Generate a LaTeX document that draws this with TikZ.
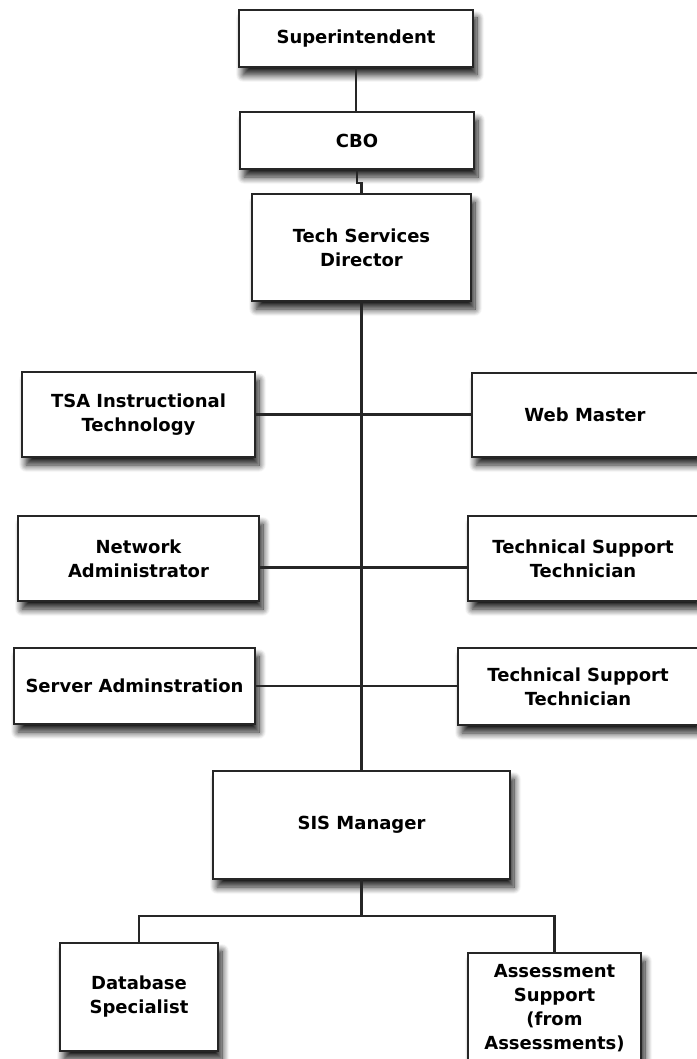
\documentclass[tikz,border=0pt]{standalone}
\usepackage{fontspec}
\setmainfont{DejaVu Sans}
\usepackage{tikz}
\usetikzlibrary{calc}
\usetikzlibrary{shadows.blur}
\tikzset{
  orgbox/.style={draw=black!85, line width=2.2pt, fill=white, align=center,
    font=\fontsize{18}{24}\selectfont\bfseries, inner sep=2pt,
    blur shadow={shadow xshift=4pt, shadow yshift=-8pt, shadow blur steps=10,
      shadow blur radius=7pt, shadow opacity=90}},
  orgline/.style={draw=black!85, line width=2.2pt}
}

\begin{document}
\begin{tikzpicture}[x=1pt, y=-1pt]
            % Frame to fix the page size
            \useasboundingbox (0,0) rectangle (696,1059);
            % Top of the chain
            \node[orgbox, minimum width=234pt, minimum height=57pt]  (sup)  at (356.0,  38.5) {Superintendent};
            \node[orgbox, minimum width=234pt, minimum height=57pt]  (cbo)  at (357.0, 140.5) {CBO};
            \node[orgbox, minimum width=219pt, minimum height=107pt] (tech) at (361.5, 247.5) {Tech Services\\Director};
            % Left column
            \node[orgbox, minimum width=233pt, minimum height=85pt]  (tsa)  at (138.5, 414.5) {TSA Instructional\\Technology};
            \node[orgbox, minimum width=241pt, minimum height=85pt]  (net)  at (138.5, 558.5) {Network\\Administrator};
            \node[orgbox, minimum width=241pt, minimum height=76pt]  (srv)  at (134.5, 686.0) {Server Adminstration};
            % Right column
            \node[orgbox, minimum width=226pt, minimum height=84pt]  (web)  at (585.0, 415.0) {Web Master};
            \node[orgbox, minimum width=230pt, minimum height=85pt]  (tsta) at (583.0, 558.5) {Technical Support\\Technician};
            \node[orgbox, minimum width=240pt, minimum height=77pt]  (tstb) at (578.0, 686.5) {Technical Support\\Technician};
            % Bottom of the chain
            \node[orgbox, minimum width=297pt, minimum height=108pt] (sis)  at (361.5, 825.0) {SIS Manager};
            \node[orgbox, minimum width=158pt, minimum height=108pt] (db)   at (139.0, 997.0) {Database\\Specialist};
            \node[orgbox, minimum width=173pt, minimum height=110pt] (asm)  at (554.5,1008.0) {Assessment\\Support\\(from\\Assessments)};
            % Chain of command
            \draw[orgline] (sup) -- (sup |- cbo.north);
            \draw[orgline] (cbo.south) -- ++(0,13) -| (tech.north);
            \draw[orgline] (tech.south) -- (sis.north);
            % Side branches
            \draw[orgline] (tsa.east) -- (tsa.east -| web.west);
            \draw[orgline] ([yshift=-9pt]net.east) -- ([yshift=-9pt]net.east -| tsta.west);
            \draw[orgline] (srv.east) -- (srv.east -| tstb.west);
            % Lower branches
            \coordinate (bus) at ($(sis.south)+(0,36)$);
            \draw[orgline] (sis.south) -- (bus);
            \draw[orgline] (db.north) |- (bus) -| (asm.north);
\end{tikzpicture}
\end{document}
